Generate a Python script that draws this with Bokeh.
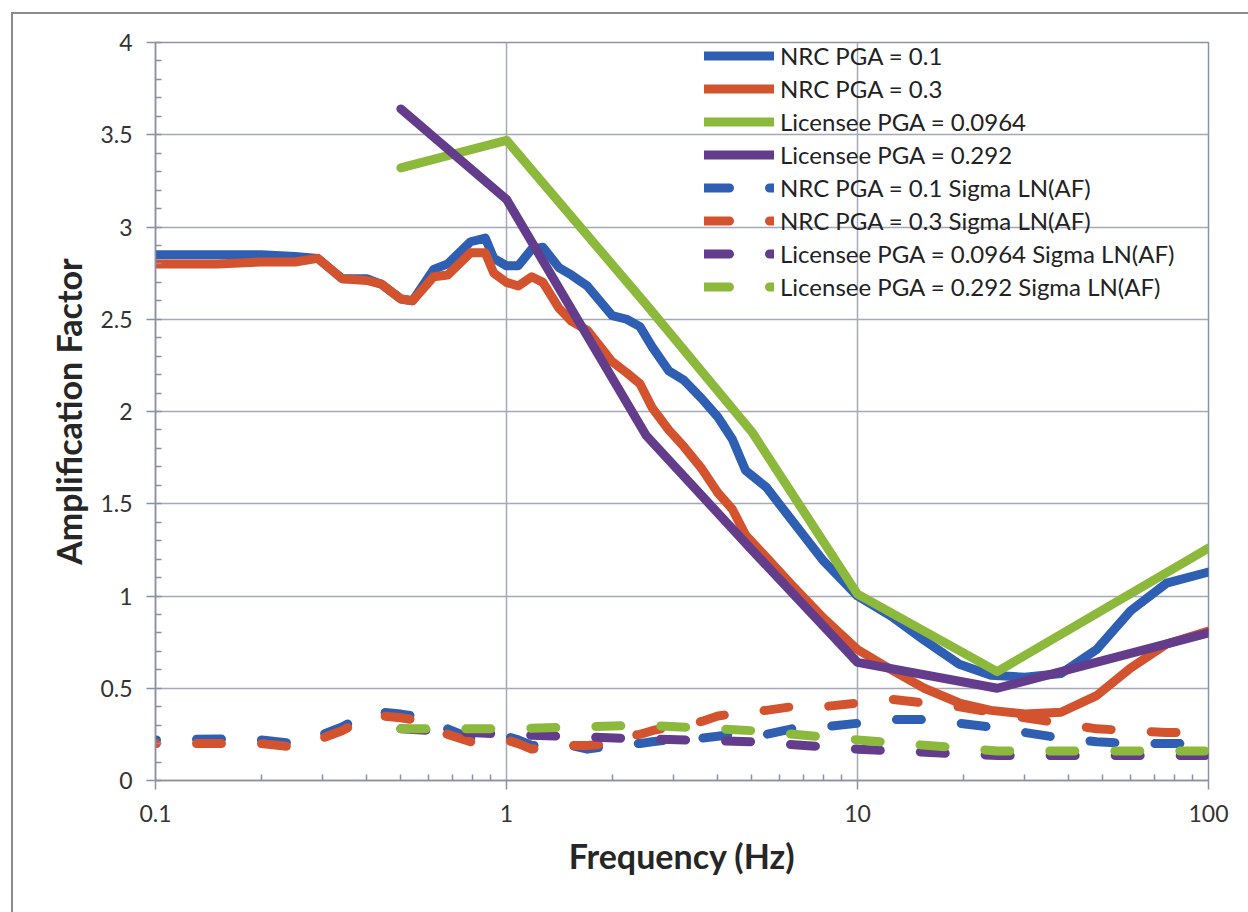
from bokeh.plotting import figure
from bokeh.layouts import column
from bokeh.models import SingleIntervalTicker, FixedTicker, CustomJSTickFormatter
from bokeh.embed import file_html
from bokeh.resources import INLINE

# ---------------- data ----------------
nrc_freq = [0.1, 0.15, 0.2, 0.25, 0.29, 0.34, 0.4, 0.44, 0.5, 0.54, 0.62, 0.68,
            0.79, 0.87, 0.92, 1.0, 1.08, 1.18, 1.27, 1.41, 1.53, 1.7, 2.0, 2.2,
            2.4, 2.6, 2.9, 3.2, 3.6, 4.0, 4.4, 4.8, 5.5, 6.5, 8.0, 10, 12.5,
            15.5, 19.5, 24, 30, 38, 48, 60, 76, 100]

nrc_pga01 = [2.85, 2.85, 2.85, 2.84, 2.83, 2.72, 2.72, 2.69, 2.61, 2.60, 2.77, 2.80,
             2.92, 2.94, 2.83, 2.79, 2.79, 2.88, 2.89, 2.78, 2.74, 2.68, 2.52, 2.50,
             2.46, 2.35, 2.22, 2.17, 2.07, 1.97, 1.85, 1.68, 1.59, 1.41, 1.19, 1.00,
             0.89, 0.76, 0.63, 0.57, 0.56, 0.58, 0.71, 0.92, 1.07, 1.13]

nrc_pga03 = [2.80, 2.80, 2.81, 2.81, 2.83, 2.72, 2.71, 2.69, 2.61, 2.60, 2.73, 2.74,
             2.86, 2.86, 2.75, 2.70, 2.68, 2.73, 2.70, 2.56, 2.49, 2.44, 2.27, 2.21,
             2.15, 2.02, 1.90, 1.81, 1.69, 1.56, 1.47, 1.33, 1.21, 1.06, 0.88, 0.71,
             0.60, 0.50, 0.42, 0.38, 0.36, 0.37, 0.46, 0.61, 0.74, 0.81]

nrc_pga01_sigma = [0.22, 0.225, 0.22, 0.20, 0.24, 0.29, 0.36, 0.37, 0.36, 0.35, 0.31, 0.28,
                   0.23, 0.24, 0.24, 0.24, 0.22, 0.19, 0.19, 0.19, 0.19, 0.17, 0.19, 0.20,
                   0.20, 0.21, 0.22, 0.22, 0.23, 0.24, 0.25, 0.24, 0.25, 0.28, 0.29, 0.31,
                   0.33, 0.33, 0.31, 0.29, 0.26, 0.23, 0.21, 0.20, 0.20, 0.20]

nrc_pga03_sigma = [0.20, 0.20, 0.20, 0.18, 0.22, 0.27, 0.34, 0.35, 0.34, 0.33, 0.28, 0.25,
                   0.21, 0.21, 0.22, 0.22, 0.20, 0.17, 0.18, 0.19, 0.19, 0.19, 0.20, 0.24,
                   0.25, 0.27, 0.29, 0.30, 0.32, 0.35, 0.36, 0.37, 0.38, 0.40, 0.40, 0.42,
                   0.44, 0.42, 0.40, 0.37, 0.34, 0.31, 0.28, 0.27, 0.26, 0.26]

lic_freq = [0.5, 1, 2.5, 5, 10, 25, 100]
lic_pga0964 = [3.32, 3.47, 2.58, 1.89, 1.01, 0.59, 1.26]
lic_pga292 = [3.64, 3.15, 1.87, 1.25, 0.64, 0.50, 0.80]
lic_pga0964_sigma = [0.28, 0.25, 0.225, 0.21, 0.17, 0.135, 0.135]
lic_pga292_sigma = [0.28, 0.28, 0.30, 0.27, 0.22, 0.16, 0.16]

x_ticks = [0.1, 1, 10, 100]
y_interval = 0.5

BLUE = "#2f5fb3"
RED = "#d4532f"
GREEN = "#8cb83c"
PURPLE = "#633d8c"

# ---------------- figure ----------------
p = figure(width=1235, height=898, x_axis_type="log", x_range=(0.1, 100),
           y_range=(0, 4), output_backend="svg", toolbar_location=None,
           min_border_left=142, min_border_right=40, min_border_top=28,
           min_border_bottom=132)
p.background_fill_color = "white"
p.border_fill_color = "white"
p.outline_line_color = "#8c93a8"
p.outline_line_width = 1.5

minor = [k * 10 ** e for e in (-1, 0, 1) for k in range(2, 10)]
p.xaxis.ticker = FixedTicker(ticks=x_ticks, minor_ticks=minor)
p.yaxis.ticker = SingleIntervalTicker(interval=y_interval, num_minor_ticks=5)
fmt = "return tick.toString();"
p.xaxis.formatter = CustomJSTickFormatter(code=fmt)
p.yaxis.formatter = CustomJSTickFormatter(code=fmt)

p.xgrid.grid_line_color = "#a4a8b8"
p.ygrid.grid_line_color = "#a4a8b8"
p.xgrid.grid_line_width = 1.5
p.ygrid.grid_line_width = 1.5

for ax in (p.xaxis, p.yaxis):
    ax.axis_line_color = "#8a90a6"
    ax.axis_line_width = 1.5
    ax.major_tick_line_color = "#8a90a6"
    ax.minor_tick_line_color = "#8a90a6"
    ax.major_tick_line_width = 1.5
    ax.minor_tick_line_width = 1.5
    ax.major_tick_in = 0
    ax.major_tick_out = 9
    ax.minor_tick_in = 6
    ax.minor_tick_out = 0
    ax.major_label_text_font = "Lato"
    ax.major_label_text_font_size = "23px"
    ax.major_label_text_color = "#333333"
    ax.axis_label_text_font = "Lato"
    ax.axis_label_text_font_style = "bold"
    ax.axis_label_text_font_size = "34px"
    ax.axis_label_text_color = "#262626"

p.xaxis.axis_label = "Frequency (Hz)"
p.yaxis.axis_label = "Amplification Factor"
p.xaxis.major_label_standoff = 15
p.yaxis.major_label_standoff = 14
p.xaxis.axis_label_standoff = 10
p.yaxis.axis_label_standoff = 8

W = 9
common = dict(line_width=W, line_cap="round", line_join="round")
DASH = "25 40"

# solid series
p.line(nrc_freq, nrc_pga01, color=BLUE, legend_label="NRC PGA = 0.1", **common)
p.line(nrc_freq, nrc_pga03, color=RED, legend_label="NRC PGA = 0.3", **common)
p.line(lic_freq, lic_pga0964, color=GREEN, legend_label="Licensee PGA = 0.0964", **common)
p.line(lic_freq, lic_pga292, color=PURPLE, legend_label="Licensee PGA = 0.292", **common)

# dashed sigma series (drawn)
p.line(nrc_freq, nrc_pga01_sigma, color=BLUE, line_dash=DASH, line_dash_offset=24, **common)
p.line(nrc_freq, nrc_pga03_sigma, color=RED, line_dash=DASH, line_dash_offset=24, **common)
p.line(lic_freq, lic_pga0964_sigma, color=PURPLE, line_dash=DASH, **common)
p.line(lic_freq, lic_pga292_sigma, color=GREEN, line_dash=DASH, **common)

# legend proxies for the dashed series (same data, hidden; dash phase 0)
for xs, ys, col, lab in [(nrc_freq, nrc_pga01_sigma, BLUE, "NRC PGA = 0.1 Sigma LN(AF)"),
                         (nrc_freq, nrc_pga03_sigma, RED, "NRC PGA = 0.3 Sigma LN(AF)"),
                         (lic_freq, lic_pga0964_sigma, PURPLE, "Licensee PGA = 0.0964 Sigma LN(AF)"),
                         (lic_freq, lic_pga292_sigma, GREEN, "Licensee PGA = 0.292 Sigma LN(AF)")]:
    p.line(xs, ys, color=col, line_dash=DASH, legend_label=lab, visible=False, **common)

lg = p.legend[0]
lg.location = (549, 477)
lg.background_fill_alpha = 0
lg.border_line_alpha = 0
lg.inactive_fill_alpha = 0
lg.padding = 0
lg.margin = 0
lg.spacing = 0
lg.glyph_width = 70
lg.glyph_height = 33
lg.label_height = 33
lg.label_standoff = 6
lg.label_text_font = "Lato"
lg.label_text_font_size = "24px"
lg.label_text_color = "#222222"

page = column(p, margin=(12, 0, 0, 11),
              styles={"border-left": "2px solid #8a8a8a",
                      "border-top": "2px solid #8a8a8a"})

open("out.html", "w").write(file_html(page, INLINE))
